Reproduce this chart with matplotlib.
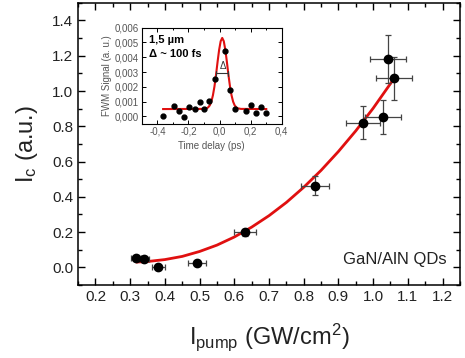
import numpy as np
import matplotlib
matplotlib.use('Agg')
from matplotlib import pyplot as plt
from matplotlib.ticker import MultipleLocator, FuncFormatter

plt.rcParams['font.family'] = ['Liberation Sans', 'DejaVu Sans']
plt.rcParams['mathtext.default'] = 'regular'

# main data: I_c vs pump intensity
pump = [0.316, 0.339, 0.381, 0.492, 0.631, 0.832, 0.971, 1.028, 1.043, 1.060]
pump_err = [0.015, 0.015, 0.019, 0.026, 0.031, 0.041, 0.050, 0.052, 0.053, 0.053]
ic = [0.055, 0.049, 0.002, 0.025, 0.199, 0.463, 0.821, 0.854, 1.182, 1.072]
ic_err = [0.01, 0.01, 0.01, 0.01, 0.02, 0.054, 0.093, 0.097, 0.134, 0.122]

# fitted curve
fit_x = [0.32, 0.35, 0.40, 0.45, 0.50, 0.55, 0.60, 0.65, 0.70, 0.75, 0.80,
         0.85, 0.90, 0.95, 1.00, 1.06]
fit_y = [0.030, 0.033, 0.044, 0.062, 0.090, 0.126, 0.172, 0.228, 0.293,
         0.368, 0.454, 0.550, 0.657, 0.774, 0.902, 1.070]

# inset: FWM signal vs time delay
delay = [-0.361, -0.294, -0.262, -0.226, -0.194, -0.161, -0.129, -0.097, -0.066,
         -0.032, 0.037, 0.069, 0.101, 0.168, 0.200, 0.232, 0.267, 0.301]
fwm = [0.0000, 0.00072, 0.00037, -0.00005, 0.00061, 0.00052, 0.00095, 0.00048,
       0.00101, 0.00252, 0.00443, 0.00181, 0.00048, 0.00035, 0.00079, 0.00025,
       0.00065, 0.00021]
gfit_x = [-0.363, -0.103, -0.083, -0.073, -0.063, -0.053, -0.043, -0.033, -0.023,
          -0.013, -0.003, 0.007, 0.017, 0.027, 0.037, 0.047, 0.057, 0.067, 0.077,
          0.087, 0.097, 0.107, 0.117, 0.137, 0.300]
gfit_y = [0.0005, 0.00051, 0.00055, 0.00062, 0.00075, 0.00100, 0.00142, 0.00202,
          0.00280, 0.00368, 0.00449, 0.00508, 0.00530, 0.00508, 0.00449, 0.00368,
          0.00280, 0.00202, 0.00142, 0.00100, 0.00075, 0.00062, 0.00055, 0.00051,
          0.0005]

fig = plt.figure(figsize=(4.65, 3.58), dpi=100)
ax = fig.add_axes([0.168, 0.204, 0.821, 0.788])

ax.errorbar(pump, ic, xerr=pump_err, yerr=ic_err, fmt='o', color='black',
            ms=6, ecolor='#444444', elinewidth=0.9, capsize=2.5, capthick=0.9, zorder=3)
ax.plot(fit_x, fit_y, color='#e01010', lw=2, zorder=2)

ax.set_xlim(0.15, 1.25)
ax.set_ylim(-0.1, 1.5)
ax.xaxis.set_minor_locator(MultipleLocator(0.05))
ax.yaxis.set_minor_locator(MultipleLocator(0.1))
ax.set_xticks([0.2, 0.3, 0.4, 0.5, 0.6, 0.7, 0.8, 0.9, 1.0, 1.1, 1.2])
ax.set_yticks([0.0, 0.2, 0.4, 0.6, 0.8, 1.0, 1.2, 1.4])
ax.tick_params(which='both', direction='in', top=True, right=True, labelsize=11,
               labelcolor='#222222')
ax.tick_params(which='major', length=5, width=1)
ax.tick_params(which='minor', length=3, width=1)
for s in ax.spines.values():
    s.set_linewidth(1.1)

ax.set_xlabel('I$_{pump}$ (GW/cm$^2$)', fontsize=17, labelpad=13, color='#222222')
ax.set_ylabel('I$_c$ (a.u.)', fontsize=17, labelpad=9, color='#222222')
ax.text(0.966, 0.092, 'GaN/AlN QDs', transform=ax.transAxes, ha='right', va='center',
        fontsize=12, color='#222222')

# inset
ins = fig.add_axes([0.305, 0.654, 0.301, 0.269])
ins.plot(delay, fwm, 'o', color='black', ms=3.5, zorder=3)
ins.plot(gfit_x, gfit_y, color='#e01010', lw=1.5, zorder=2)
ins.annotate('', xy=(-0.021, 0.0029), xytext=(0.056, 0.0029),
             arrowprops=dict(arrowstyle='|-|,widthA=0.2,widthB=0.2', lw=0.8, color='#333333',
                             shrinkA=0, shrinkB=0))
ins.text(0.022, 0.0031, 'Δ', fontsize=7, ha='center', va='bottom', color='#333333')
ins.set_xlim(-0.5, 0.4)
ins.set_ylim(-0.0005, 0.006)
ins.xaxis.set_minor_locator(MultipleLocator(0.1))
ins.yaxis.set_major_locator(MultipleLocator(0.001))
ins.set_xticks([-0.4, -0.2, 0.0, 0.2, 0.4])


def comma(fmt):
    def f(v, pos):
        if abs(v) < 1e-9:
            v = 0.0
        return (fmt % v).replace('.', ',')
    return FuncFormatter(f)


ins.xaxis.set_major_formatter(comma('%.1f'))
ins.yaxis.set_major_formatter(comma('%.3f'))
ins.tick_params(which='both', direction='in', top=True, right=True, labelsize=7,
                labelcolor='#555555', pad=2)
ins.tick_params(which='major', length=3, width=0.7)
ins.tick_params(which='minor', length=1.5, width=0.7)
for s in ins.spines.values():
    s.set_linewidth(0.8)
ins.set_xlabel('Time delay (ps)', fontsize=7, color='#555555', labelpad=3)
ins.set_ylabel('FWM Signal (a. u.)', fontsize=7, color='#555555', labelpad=2)
ins.text(0.05, 0.87, '1,5 µm', transform=ins.transAxes, fontsize=8, fontweight='bold',
         va='center')
ins.text(0.05, 0.73, 'Δ ~ 100 fs', transform=ins.transAxes, fontsize=8, fontweight='bold',
         va='center')

fig.savefig('out.png', dpi=100)
